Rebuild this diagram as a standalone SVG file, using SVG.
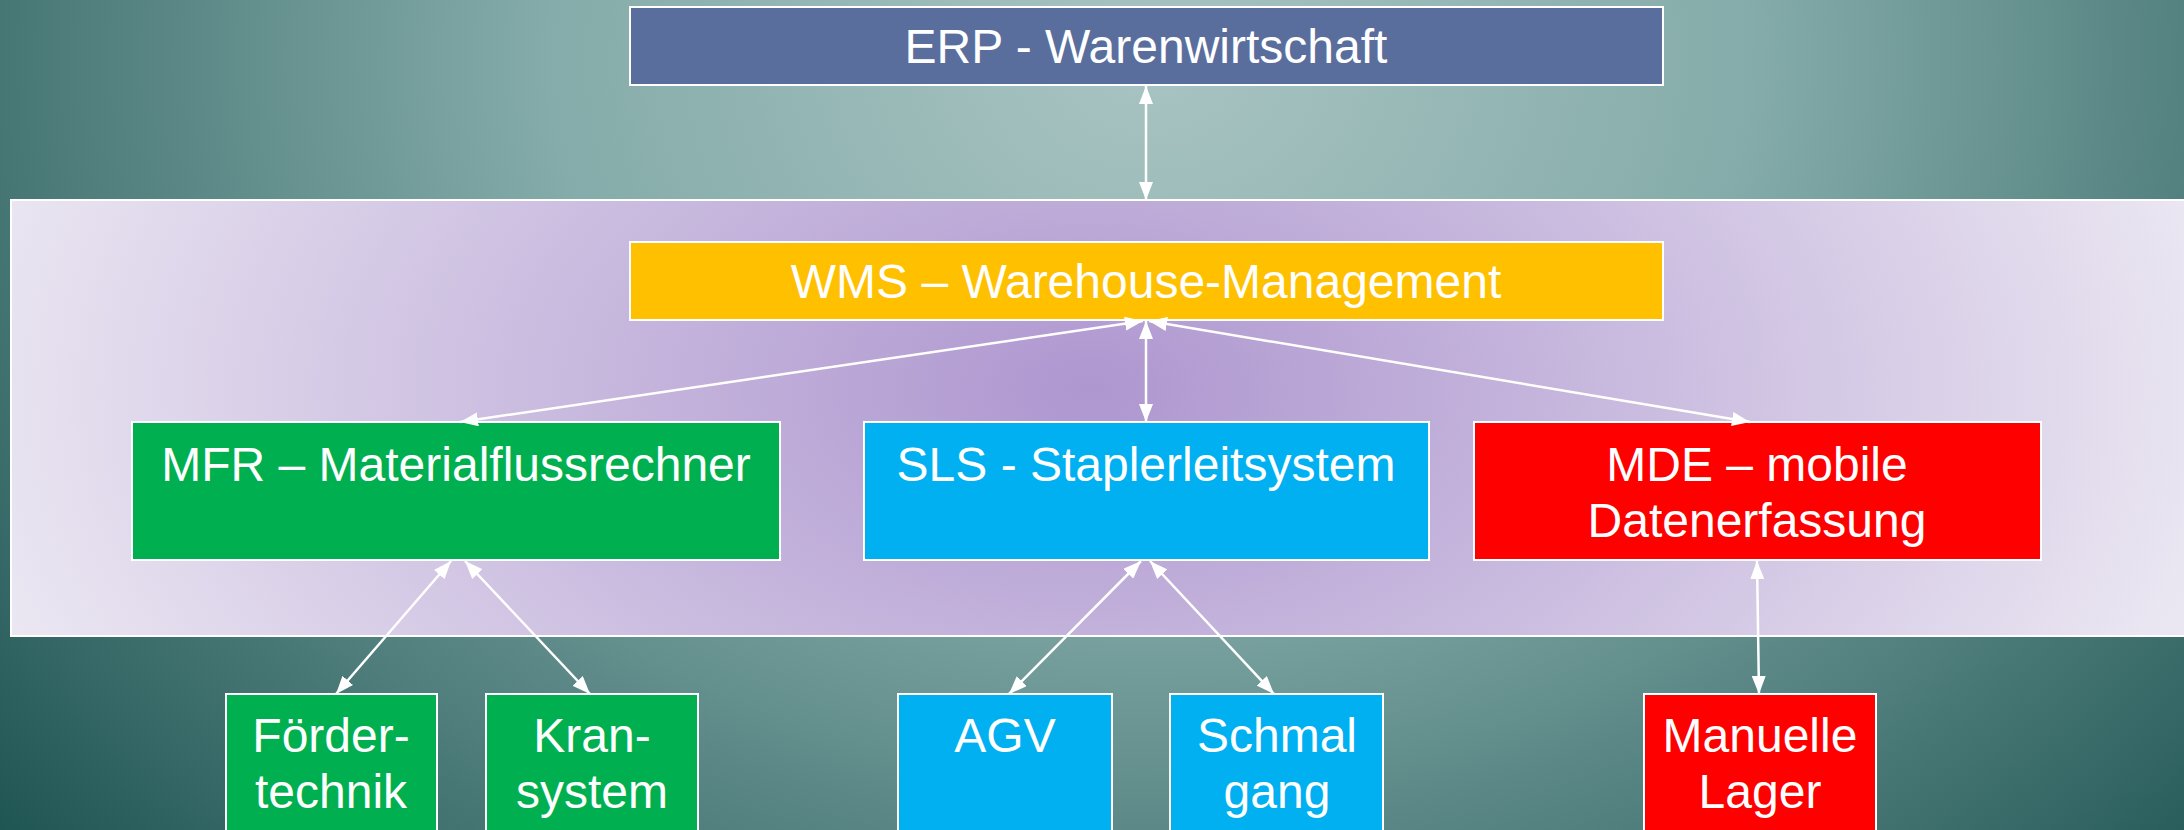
<svg xmlns="http://www.w3.org/2000/svg" width="2184" height="830" viewBox="0 0 2184 830">
<defs>
<radialGradient id="bg" cx="1150" cy="60" r="1200" gradientUnits="userSpaceOnUse" gradientTransform="translate(1150 60) scale(1.25 1) translate(-1150 -60)">
<stop offset="0" stop-color="#a9c4c2"/>
<stop offset="0.4" stop-color="#85acaa"/>
<stop offset="1" stop-color="#1f5553"/>
</radialGradient>
<radialGradient id="panel" cx="1090" cy="390" r="1150" gradientUnits="userSpaceOnUse" gradientTransform="translate(1090 390) scale(1 0.6) translate(-1090 -390)">
<stop offset="0" stop-color="#ae96cf"/>
<stop offset="0.5" stop-color="#cbbde0"/>
<stop offset="1" stop-color="#ebe7f2"/>
</radialGradient>
<marker id="ah" viewBox="0 0 18 14" refX="18" refY="7" markerWidth="18" markerHeight="14" markerUnits="userSpaceOnUse" orient="auto-start-reverse">
<path d="M0,0 L18,7 L0,14 z" fill="#ffffff"/>
</marker>
</defs>
<style>
.box{stroke:#ffffff;stroke-width:2}
.t{font-family:"Liberation Sans",Arial,sans-serif;font-size:48px;fill:#ffffff;text-anchor:middle}
.c{stroke:#ffffff;stroke-width:2.5;fill:none;marker-start:url(#ah);marker-end:url(#ah)}
</style>
<rect x="0" y="0" width="2184" height="830" fill="url(#bg)"/>
<rect id="panel-bg" x="11" y="200" width="2190" height="436" fill="url(#panel)" stroke="#ffffff" stroke-width="2"/>

<g id="erp"><rect class="box" x="630" y="7" width="1033" height="78" fill="#5a6e9e"/><text class="t" x="1146" y="63">ERP - Warenwirtschaft</text></g>
<g id="wms"><rect class="box" x="630" y="242" width="1033" height="78" fill="#ffc000"/><text class="t" x="1146" y="298">WMS – Warehouse-Management</text></g>
<g id="mfr"><rect class="box" x="132" y="422" width="648" height="138" fill="#00b050"/><text class="t" x="456" y="481">MFR – Materialflussrechner</text></g>
<g id="sls"><rect class="box" x="864" y="422" width="565" height="138" fill="#00b0f0"/><text class="t" x="1146" y="481">SLS - Staplerleitsystem</text></g>
<g id="mde"><rect class="box" x="1474" y="422" width="567" height="138" fill="#ff0000"/><text class="t" x="1757" y="481">MDE – mobile</text><text class="t" x="1757" y="537">Datenerfassung</text></g>
<g id="foerder"><rect class="box" x="226" y="694" width="211" height="150" fill="#00b050"/><text class="t" x="331" y="752">Förder-</text><text class="t" x="331" y="808">technik</text></g>
<g id="kran"><rect class="box" x="486" y="694" width="212" height="150" fill="#00b050"/><text class="t" x="592" y="752">Kran-</text><text class="t" x="592" y="808">system</text></g>
<g id="agv"><rect class="box" x="898" y="694" width="214" height="150" fill="#00b0f0"/><text class="t" x="1005" y="752">AGV</text></g>
<g id="schmal"><rect class="box" x="1170" y="694" width="213" height="150" fill="#00b0f0"/><text class="t" x="1277" y="752">Schmal</text><text class="t" x="1277" y="808">gang</text></g>
<g id="manuell"><rect class="box" x="1644" y="694" width="232" height="150" fill="#ff0000"/><text class="t" x="1760" y="752">Manuelle</text><text class="t" x="1760" y="808">Lager</text></g>

<g id="connectors">
<line class="c" x1="1146" y1="86" x2="1146" y2="200"/>
<line class="c" x1="1143" y1="321" x2="460" y2="422"/>
<line class="c" x1="1146" y1="321" x2="1146" y2="422"/>
<line class="c" x1="1149" y1="321" x2="1750" y2="422"/>
<line class="c" x1="451" y1="561" x2="336" y2="694"/>
<line class="c" x1="465" y1="561" x2="590" y2="694"/>
<line class="c" x1="1141" y1="561" x2="1009" y2="694"/>
<line class="c" x1="1150" y1="561" x2="1274" y2="694"/>
<line class="c" x1="1757" y1="561" x2="1759" y2="694"/>
</g>
</svg>
